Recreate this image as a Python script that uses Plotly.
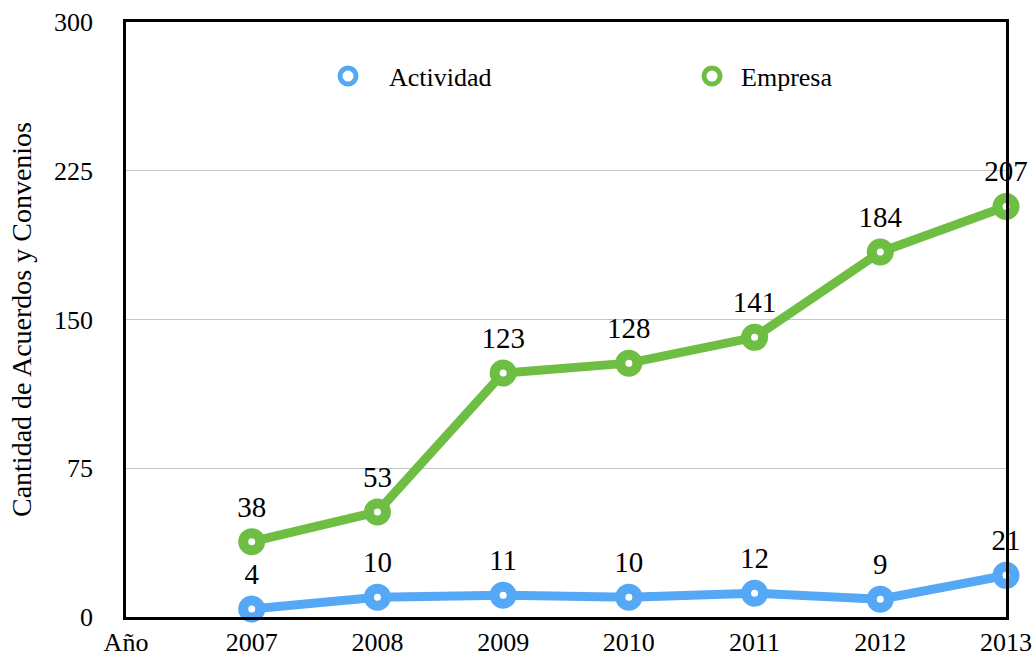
import plotly.graph_objects as go

years = ['2007', '2008', '2009', '2010', '2011', '2012', '2013']
actividad = [4, 10, 11, 10, 12, 9, 21]
empresa = [38, 53, 123, 128, 141, 184, 207]
x_categories = ['Año'] + years
y_ticks = [0, 75, 150, 225, 300]

blue = '#55A8F6'
green = '#6FBE44'
serif = 'Liberation Serif, Times New Roman, serif'

fig = go.Figure()

series = [('Actividad', actividad, blue, 'legend'),
          ('Empresa', empresa, green, 'legend2')]

for name, values, color, leg in series:
    fig.add_scatter(
        x=years,
        y=values,
        mode='lines+markers',
        line=dict(color=color, width=9),
        marker=dict(size=17, color='white', line=dict(color=color, width=10)),
        cliponaxis=False,
        showlegend=False,
        name=name
    )
    # value labels, invisible marker just to push the text a bit higher
    fig.add_scatter(
        x=years,
        y=values,
        mode='markers+text',
        text=[str(v) for v in values],
        textposition='top center',
        textfont=dict(family=serif, size=29, color='black'),
        marker=dict(size=27, color='rgba(0,0,0,0)'),
        cliponaxis=False,
        showlegend=False,
        hoverinfo='skip'
    )
    # legend-only entry, marker without the line segment
    fig.add_scatter(
        x=[None],
        y=[None],
        mode='markers',
        marker=dict(size=16, color='white', line=dict(color=color, width=5)),
        name=name,
        legend=leg,
        showlegend=True
    )

fig.update_xaxes(
    type='category',
    categoryorder='array',
    categoryarray=x_categories,
    range=[0, 7],
    showgrid=False,
    showline=True,
    linecolor='black',
    linewidth=2.5,
    mirror=True,
    ticks='',
    tickfont=dict(family=serif, size=26, color='black'),
    automargin=False,
    zeroline=False
)

fig.update_yaxes(
    range=[0, 300],
    tickvals=y_ticks,
    showgrid=True,
    gridcolor='#C4C4C4',
    gridwidth=1,
    showline=True,
    linecolor='black',
    linewidth=2.5,
    mirror=True,
    ticks='',
    tickfont=dict(family=serif, size=26, color='black'),
    ticklabelstandoff=25,
    title=dict(text='Cantidad de Acuerdos y Convenios',
               font=dict(family=serif, size=28, color='black'),
               standoff=15),
    automargin=False,
    zeroline=False
)

legend_font = dict(family=serif, size=26, color='black')

fig.update_layout(
    width=1033,
    height=656,
    margin=dict(l=126, r=27, t=22, b=39),
    plot_bgcolor='white',
    paper_bgcolor='white',
    legend=dict(
        orientation='h', x=0.2057, y=0.909,
        xanchor='left', yanchor='middle',
        itemwidth=72, font=legend_font,
        bgcolor='rgba(0,0,0,0)'
    ),
    legend2=dict(
        orientation='h', x=0.633, y=0.909,
        xanchor='left', yanchor='middle',
        itemwidth=48, font=legend_font,
        bgcolor='rgba(0,0,0,0)'
    )
)

fig.write_html("out.html", config={'displayModeBar': False},
               post_script="document.body.style.margin='0';")
